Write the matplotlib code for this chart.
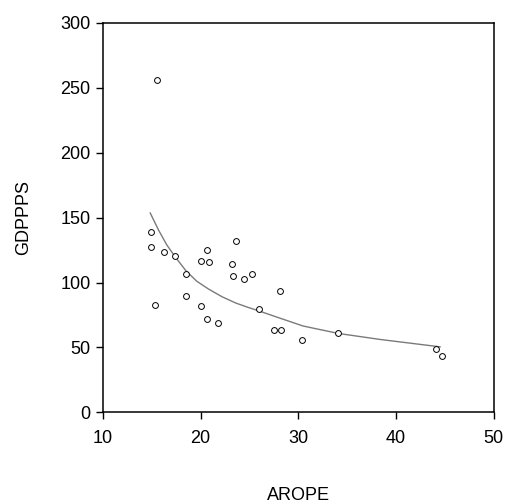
import matplotlib
matplotlib.use('Agg')
import matplotlib.pyplot as plt

plt.rcParams['font.family'] = ['Liberation Sans', 'DejaVu Sans']

# Scatter points (AROPE, GDPPPS)
arope = [15.55, 14.87, 14.87, 16.30, 17.39, 18.52, 18.52, 15.38, 20.05, 20.60,
         20.83, 20.05, 20.60, 21.82, 23.22, 23.66, 23.32, 24.48, 25.26, 25.98,
         28.09, 27.55, 28.19, 30.41, 34.09, 44.11, 44.65]
gdppps = [255.7, 139.2, 127.3, 123.2, 120.4, 106.5, 89.3, 82.4, 116.3, 124.8,
          115.5, 81.6, 71.9, 68.5, 114.2, 132.2, 105.3, 102.4, 106.5, 79.6,
          93.5, 63.7, 63.7, 56.0, 61.1, 48.5, 43.6]

# Fitted curve
fit_x = [14.84, 15.69, 16.54, 17.39, 18.5, 19.6, 20.8, 22.2, 23.6, 24.8,
         25.9, 28.1, 30.5, 34.1, 38.35, 44.5]
fit_y = [153.5, 140.4, 128.9, 119.8, 109.0, 101.0, 95.0, 89.0, 84.2, 81.0,
         78.3, 72.6, 66.5, 60.8, 56.2, 50.5]

x_ticks = [10, 20, 30, 40, 50]
y_ticks = [0, 50, 100, 150, 200, 250, 300]

fig = plt.figure(figsize=(5.07, 5.03), dpi=100)
ax = fig.add_axes([0.203, 0.180, 0.771, 0.775])

ax.plot(fit_x, fit_y, color='#7a7a7a', linewidth=1.0)
ax.plot(arope, gdppps, linestyle='none', marker='o', markersize=4.2,
        markerfacecolor='white', markeredgecolor='black', markeredgewidth=0.7)

ax.set_xlim(10, 50)
ax.set_ylim(0, 300)
ax.set_xticks(x_ticks)
ax.set_yticks(y_ticks)
ax.tick_params(axis='both', direction='out', length=5, width=1, labelsize=13,
               colors='black')
ax.tick_params(axis='x', pad=7.5)
ax.tick_params(axis='y', pad=4)
for side in ['top', 'right', 'bottom', 'left']:
    ax.spines[side].set_linewidth(1.1)

ax.set_xlabel('AROPE', fontsize=13, labelpad=29)
ax.set_ylabel('GDPPPS', fontsize=13, labelpad=20)

fig.savefig('out.png', dpi=100)
